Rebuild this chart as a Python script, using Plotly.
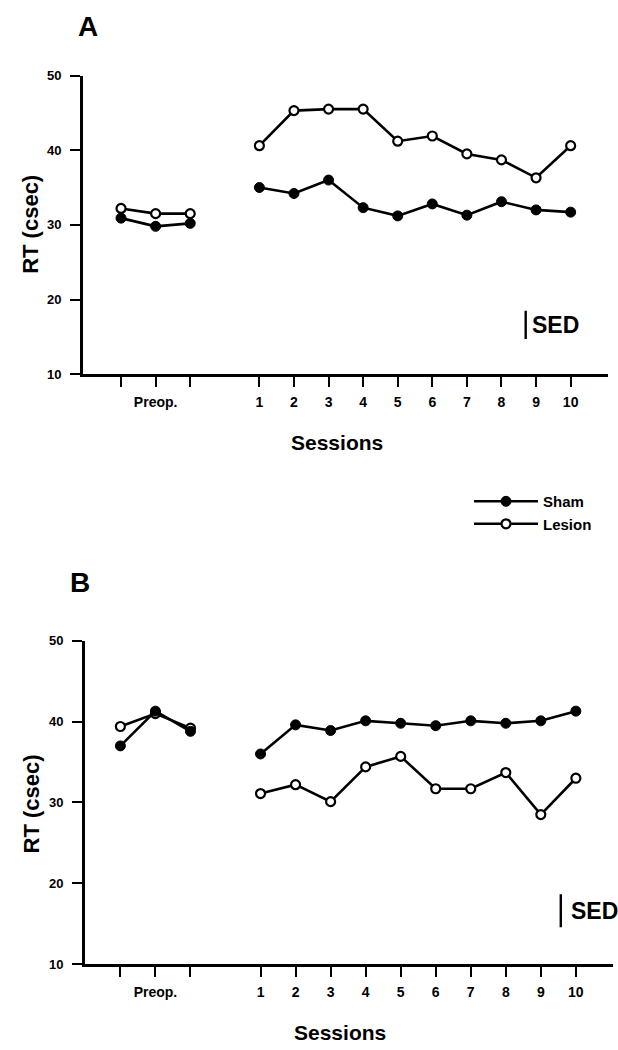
import plotly.graph_objects as go

# ---- data ----
preop_ticks = ["", "Preop.", ""]
session_labels = ["1", "2", "3", "4", "5", "6", "7", "8", "9", "10"]

a_sham_preop = [30.9, 29.8, 30.2]
a_sham_post = [35.0, 34.2, 36.0, 32.3, 31.2, 32.8, 31.3, 33.1, 32.0, 31.7]
a_lesion_preop = [32.2, 31.5, 31.5]
a_lesion_post = [40.6, 45.3, 45.5, 45.5, 41.2, 41.9, 39.5, 38.7, 36.3, 40.6]

b_sham_preop = [37.0, 41.3, 38.8]
b_sham_post = [36.0, 39.6, 38.9, 40.1, 39.8, 39.5, 40.1, 39.8, 40.1, 41.3]
b_lesion_preop = [39.4, 41.0, 39.2]
b_lesion_post = [31.1, 32.2, 30.1, 34.4, 35.7, 31.7, 31.7, 33.7, 28.5, 33.0]

sed_a = 3.8
sed_b = 4.1

# ---- positions (category slots) ----
preop_x = [0, 1, 2]
post_x = [4 + i for i in range(len(session_labels))]
xs = preop_x + [None] + post_x
tickvals = preop_x + post_x
ticktext = preop_ticks + session_labels

FONT = "Liberation Sans, Arial, sans-serif"
W, H = 618, 1050


def series(pre, post):
    return pre + [None] + post


fig = go.Figure()

sham_marker = dict(symbol="circle", size=10, color="black", line=dict(color="black", width=1))
lesion_marker = dict(symbol="circle", size=9, color="white", line=dict(color="black", width=2.2))
line_style = dict(color="black", width=2.6)

panels = [
    ("x", "y", a_sham_preop, a_sham_post, a_lesion_preop, a_lesion_post),
    ("x2", "y2", b_sham_preop, b_sham_post, b_lesion_preop, b_lesion_post),
]
for xa, ya, sp, spo, lp, lpo in panels:
    fig.add_trace(go.Scatter(x=xs, y=series(lp, lpo), mode="lines+markers", name="Lesion",
                             line=line_style, marker=lesion_marker, xaxis=xa, yaxis=ya,
                             showlegend=False))
    fig.add_trace(go.Scatter(x=xs, y=series(sp, spo), mode="lines+markers", name="Sham",
                             line=line_style, marker=sham_marker, xaxis=xa, yaxis=ya,
                             showlegend=False))

# legend entries (Sham above Lesion)
fig.add_trace(go.Scatter(x=[None], y=[None], mode="lines+markers", name="Sham",
                         line=line_style, marker=sham_marker, xaxis="x", yaxis="y", legendrank=1))
fig.add_trace(go.Scatter(x=[None], y=[None], mode="lines+markers", name="Lesion",
                         line=line_style, marker=lesion_marker, xaxis="x", yaxis="y", legendrank=2))

xtickfont = dict(family=FONT, size=14, color="black", weight="bold")
ytickfont = dict(family=FONT, size=13, color="black", weight="bold")
common_x = dict(showline=True, linewidth=2.8, linecolor="black", ticks="outside", ticklen=10,
                tickwidth=2.4, tickcolor="black", tickvals=tickvals, ticktext=ticktext,
                showgrid=False, zeroline=False, tickfont=xtickfont, ticklabelstandoff=3)
common_y = dict(showline=True, linewidth=2.8, linecolor="black", ticks="outside", ticklen=10,
                tickwidth=2.4, tickcolor="black", range=[10, 50], tickvals=[10, 20, 30, 40, 50],
                showgrid=False, zeroline=False, tickfont=ytickfont, ticklabelstandoff=6)

fig.update_layout(
    width=W, height=H,
    margin=dict(l=0, r=0, t=0, b=0),
    paper_bgcolor="white", plot_bgcolor="white",
    font=dict(family=FONT, color="black"),
    xaxis=dict(domain=[83 / W, 608 / W], range=[-1.1, 14.08], anchor="y", **common_x),
    yaxis=dict(domain=[1 - 372.5 / H, 1 - 69.5 / H], anchor="x", **common_y),
    xaxis2=dict(domain=[85 / W, 613 / W], range=[-1.01, 14.06], anchor="y2", **common_x),
    yaxis2=dict(domain=[1 - 971 / H, 1 - 643 / H], anchor="x2", **common_y),
    legend=dict(x=469 / W, y=1 - 485 / H, xanchor="left", yanchor="top",
                font=dict(family=FONT, size=15, color="black", weight="bold"),
                bgcolor="rgba(0,0,0,0)", itemwidth=64, tracegroupgap=0),
    showlegend=True,
)

# SED bars
sed_top_a = 18.5
sed_top_b = 18.65
sed_x_a = 11.7
sed_x_b = 12.57
fig.add_shape(type="line", xref="x", yref="y", x0=sed_x_a, x1=sed_x_a, y0=sed_top_a,
              y1=sed_top_a - sed_a, line=dict(color="black", width=2.4))
fig.add_shape(type="line", xref="x2", yref="y2", x0=sed_x_b, x1=sed_x_b, y0=sed_top_b,
              y1=sed_top_b - sed_b, line=dict(color="black", width=2.4))

fig.add_annotation(text="SED", xref="x", yref="y", x=sed_x_a, y=sed_top_a - sed_a / 2,
                   xanchor="left", yanchor="middle", xshift=4, showarrow=False,
                   font=dict(family=FONT, size=23, color="black", weight="bold"))
fig.add_annotation(text="SED", xref="x2", yref="y2", x=sed_x_b, y=sed_top_b - sed_b / 2,
                   xanchor="left", yanchor="middle", xshift=8, showarrow=False,
                   font=dict(family=FONT, size=23, color="black", weight="bold"))

annots = [
    dict(text="A", x=88, y=20, size=28),
    dict(text="B", x=80, y=584, size=28),
    dict(text="Sessions", x=337, y=442, size=21),
    dict(text="Sessions", x=340, y=1040, size=21),
]
for a in annots:
    fig.add_annotation(text=a["text"], xref="paper", yref="paper", x=a["x"] / W, y=1 - a["y"] / H,
                       xanchor="center", yanchor="middle", showarrow=False,
                       font=dict(family=FONT, size=a["size"], color="black", weight="bold"))

for yc in (221, 809):
    fig.add_annotation(text="RT (csec)", xref="paper", yref="paper", x=31 / W, y=1 - yc / H,
                       xanchor="center", yanchor="middle", textangle=-90, showarrow=False,
                       font=dict(family=FONT, size=22, color="black", weight="bold"))

fig.write_html("out.html")
